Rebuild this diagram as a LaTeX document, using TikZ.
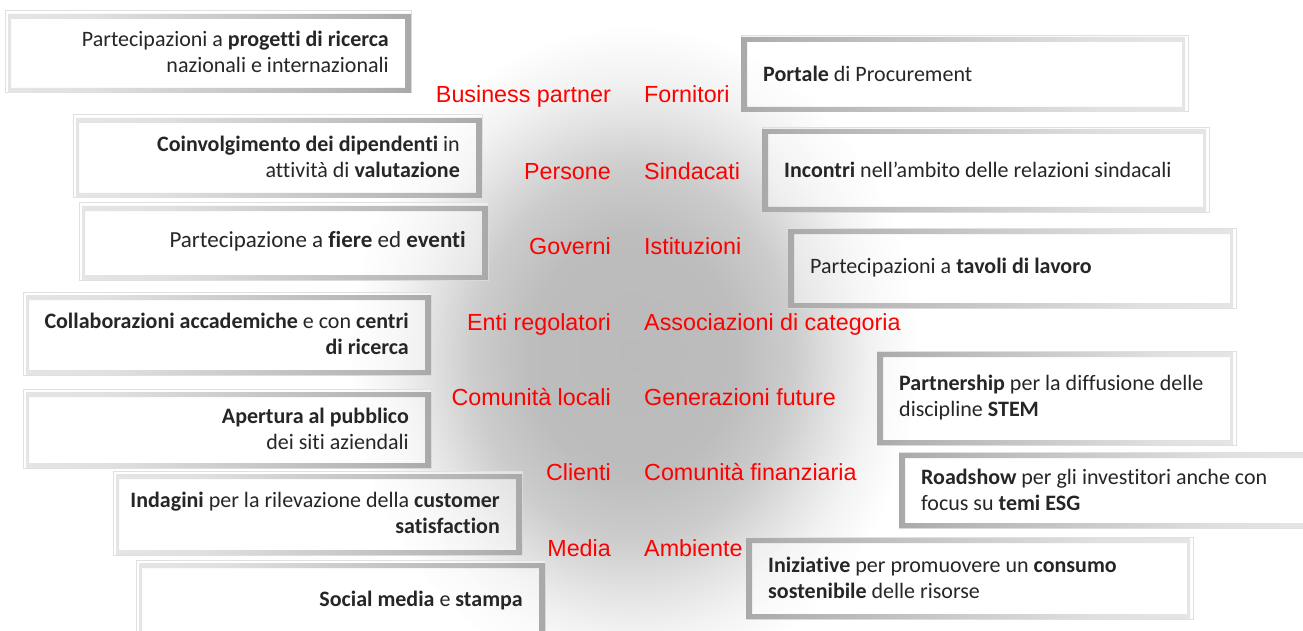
\documentclass[tikz,border=0pt]{standalone}
\usepackage{fontspec}
\setmainfont{Carlito}[Ligatures={NoCommon}]
\newfontfamily\arialf{Liberation Sans}
\pgfdeclarehorizontalshading{frameL}{100bp}{color(0bp)=(black!6); color(35bp)=(black!12); color(70bp)=(black!30); color(92bp)=(black!46); color(100bp)=(black!52)}
\pgfdeclarehorizontalshading{frameR}{100bp}{color(0bp)=(black!52); color(8bp)=(black!46); color(30bp)=(black!30); color(65bp)=(black!12); color(100bp)=(black!6)}
\pgfdeclareradialshading{glow}{\pgfpoint{0bp}{0bp}}{color(0bp)=(black!27); color(9bp)=(black!26); color(14bp)=(black!20); color(18bp)=(black!11); color(21bp)=(black!5); color(25bp)=(white); color(50bp)=(white)}
\tikzset{
  boxtext/.style={inner sep=0pt, font=\fontsize{22}{26}\selectfont, text=black!85},
  lbl/.style={inner sep=0pt, font=\arialf\fontsize{23.3}{27}\selectfont, text=red},
  cardfill/.style={fill=white, fill opacity=.45},
  cardline/.style={draw=black!12, line width=1pt}
}
% left card: name, x1, y1, x2, y2, text
\newcommand\leftcard[6]{%
  \fill[cardfill] (#2,#3) rectangle (#4,#5);
  \draw[cardline] (#2,#3) rectangle (#4,#5);
  \shade[shading=frameL, even odd rule] ({#2+3},{#3+3}) rectangle (#4,#5) ({#2+6},{#3+8}) rectangle ({#4-6},{#5-5});
  \node[boxtext, align=right, anchor=east] (#1) at ({#4-22},{(#3+#5)/2}) {#6};
}
% right card: name, x1, y1, x2, y2, text
\newcommand\rightcard[6]{%
  \fill[cardfill] (#2,#3) rectangle (#4,#5);
  \draw[cardline] (#2,#3) rectangle (#4,#5);
  \shade[shading=frameR, even odd rule] (#2,{#3+1}) rectangle ({#4-3},#5) ({#2+6},{#3+6}) rectangle ({#4-6},{#5-5});
  \node[boxtext, align=left, anchor=west] (#1) at ({#2+22},{(#3+#5)/2}) {#6};
}
\begin{document}
\begin{tikzpicture}[x=1pt, y=-1pt]
\useasboundingbox (0,0) rectangle (1303,631);
\fill[white] (0,0) rectangle (1303,631);
\begin{scope}
\clip (0,0) rectangle (1303,631);
\shade[shading=glow] (633,355) ellipse [x radius=285pt, y radius=330pt];

\leftcard{l1}{5}{11}{411}{93}{Partecipazioni a \textbf{progetti di ricerca}\\nazionali e internazionali}
\leftcard{l2}{73}{115}{482}{198}{\textbf{Coinvolgimento dei dipendenti} in\\attività di \textbf{valutazione}}
\leftcard{l3}{79}{203}{488}{280}{\fontsize{23}{27}\selectfont Partecipazione a \textbf{fiere} ed \textbf{eventi}}
\leftcard{l4}{23}{292}{431}{375}{\textbf{Collaborazioni accademiche} e con \textbf{centri}\\\textbf{di ricerca}}
\leftcard{l5}{23}{389}{431}{468}{\textbf{Apertura al pubblico}\\dei siti aziendali}
\leftcard{l6}{113}{471}{522}{555}{\textbf{Indagini} per la rilevazione della \textbf{customer}\\\textbf{satisfaction}}
\leftcard{l7}{136}{560}{545}{641}{\textbf{Social media} e \textbf{stampa}}

\rightcard{r1}{741}{36}{1188}{112}{\textbf{Portale} di Procurement}
\rightcard{r2}{762}{128}{1209}{212}{\textbf{Incontri} nell’ambito delle relazioni sindacali}
\rightcard{r3}{788}{228}{1236}{308}{Partecipazioni a \textbf{tavoli di lavoro}}
\rightcard{r4}{877}{351}{1236}{445}{\textbf{Partnership} per la diffusione delle\\discipline \textbf{STEM}}
\rightcard{r5}{899}{452}{1310}{528}{\textbf{Roadshow} per gli investitori anche con\\focus su \textbf{temi ESG}}
\rightcard{r6}{746}{537}{1193}{619}{\textbf{Iniziative} per promuovere un \textbf{consumo}\\\textbf{sostenibile} delle risorse}
\end{scope}

\node[lbl, anchor=base east] (a1) at (611,103) {Business partner};
\node[lbl, anchor=base east] (a2) at (611,179) {Persone};
\node[lbl, anchor=base east] (a3) at (611,254) {Governi};
\node[lbl, anchor=base east] (a4) at (611,330) {Enti regolatori};
\node[lbl, anchor=base east] (a5) at (611,405) {Comunità locali};
\node[lbl, anchor=base east] (a6) at (611,480) {Clienti};
\node[lbl, anchor=base east] (a7) at (611,556) {Media};

\node[lbl, anchor=base west] (b1) at (644,103) {Fornitori};
\node[lbl, anchor=base west] (b2) at (644,179) {Sindacati};
\node[lbl, anchor=base west] (b3) at (644,254) {Istituzioni};
\node[lbl, anchor=base west] (b4) at (644,330) {Associazioni di categoria};
\node[lbl, anchor=base west] (b5) at (644,405) {Generazioni future};
\node[lbl, anchor=base west] (b6) at (644,480) {Comunità finanziaria};
\node[lbl, anchor=base west] (b7) at (644,556) {Ambiente};
\end{tikzpicture}
\end{document}
